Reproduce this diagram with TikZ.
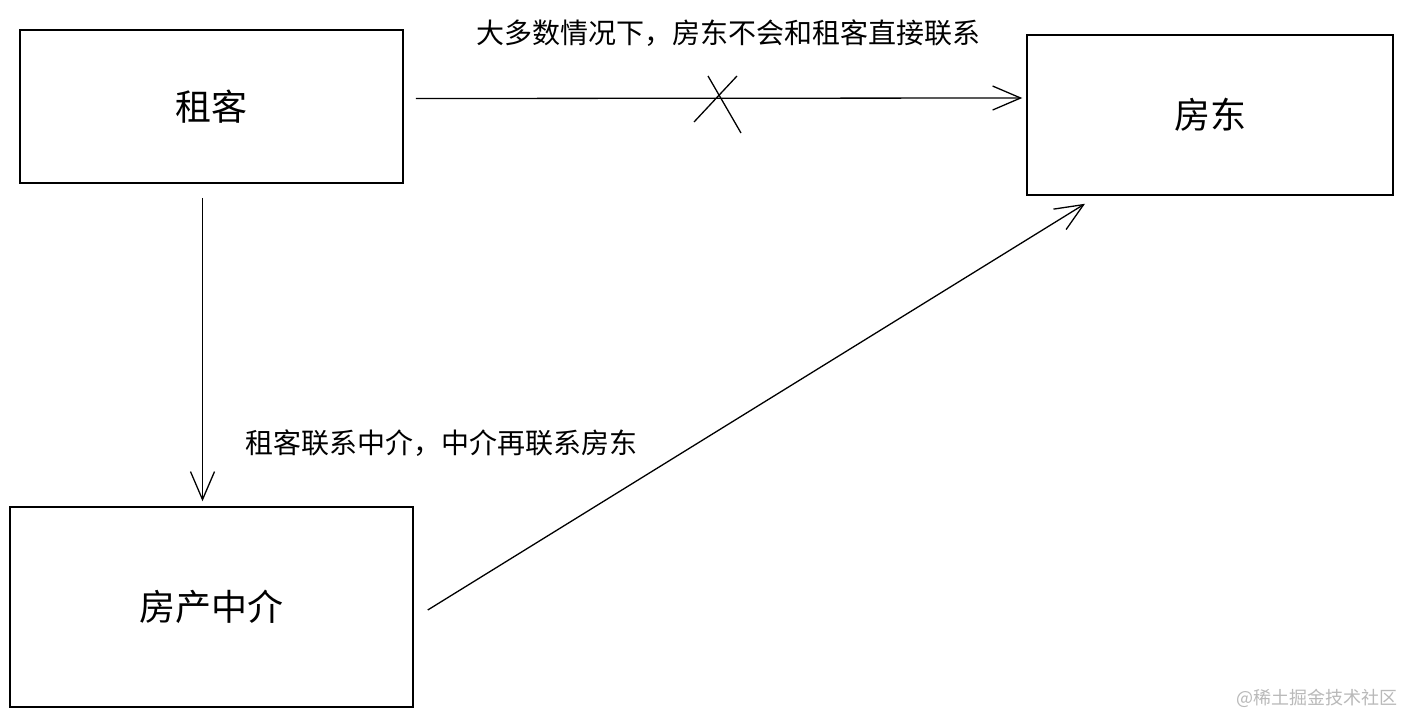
\documentclass[tikz,border=0pt]{standalone}
\usepackage{fontspec}
\setmainfont{Noto Sans CJK SC}
\usetikzlibrary{arrows.meta,calc}
\definecolor{wm}{RGB}{185,185,185}
\tikzset{
  box/.style={draw=black, line width=1.5pt, inner sep=0pt, font=\fontsize{36}{40}\selectfont},
  conn/.style={line width=1.3pt, -{Straight Barb[length=28pt,width=24pt,line width=1.3pt]}},
  lbl/.style={inner sep=0pt, font=\fontsize{28}{32}\selectfont},
}
\begin{document}
\begin{tikzpicture}[x=1pt,y=-1pt]
\useasboundingbox[fill=white] (0,0) rectangle (1403,717);
\node[box, minimum width=383pt, minimum height=153pt] (zuke) at (211.5,106.5) {租客};
\node[box, minimum width=366pt, minimum height=160pt] (fangdong) at (1210,115) {房东};
\node[box, minimum width=403pt, minimum height=200pt] (zhongjie) at (211.5,607) {房产中介};
\draw[conn] ($(zuke.east)+(12,-8)$) -- ($(fangdong.west)+(-4,-17)$);
\draw[conn] ($(zuke.south)+(-9,14)$) -- ($(zhongjie.north)+(-9,-5)$);
\draw[conn] ($(zhongjie.east)+(14,3)$) -- ($(fangdong.south)+(-125,8)$);
\draw[line width=1.3pt] (708,76) -- (741,133);
\draw[line width=1.3pt] (737,76) -- (694,122);
\node[lbl] (l1) at (728,33) {大多数情况下，房东不会和租客直接联系};
\node[lbl] (l2) at (441,443) {租客联系中介，中介再联系房东};
\node[inner sep=0pt, text=wm, font=\fontsize{18}{20}\selectfont] (wmk) at (1317,698) {@稀土掘金技术社区};
\end{tikzpicture}
\end{document}
